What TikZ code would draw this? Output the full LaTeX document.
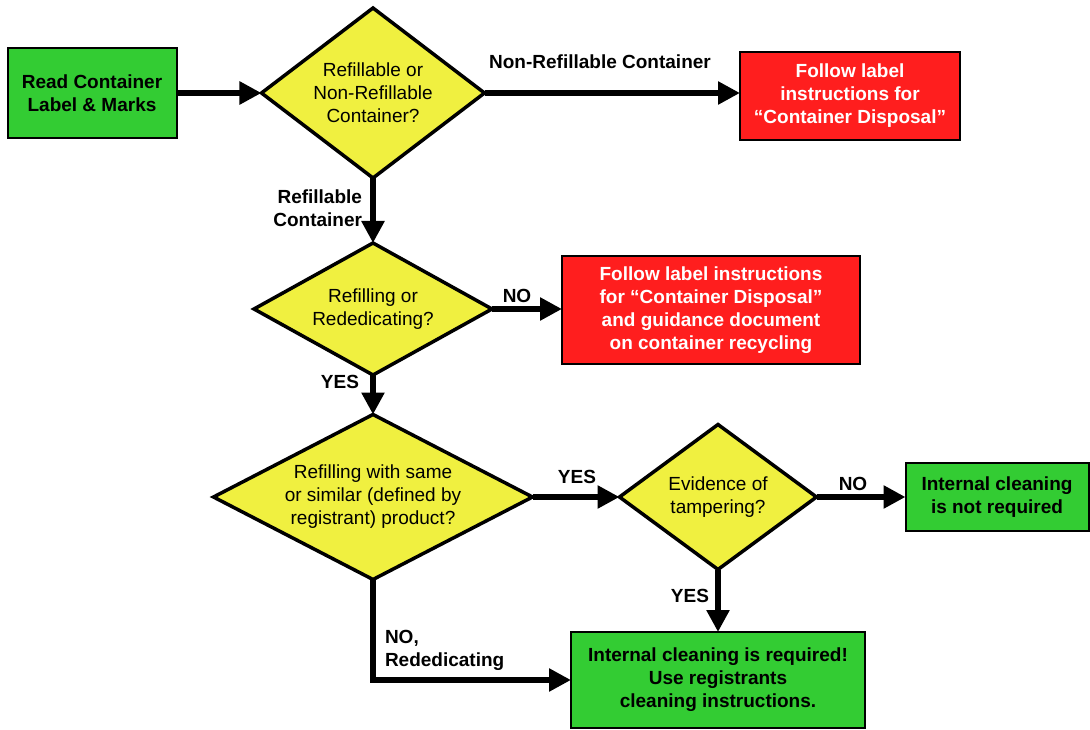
\documentclass[tikz,border=0pt]{standalone}
\usepackage{fontspec}
\setmainfont{Liberation Sans}
\usetikzlibrary{shapes.geometric,arrows.meta}
\definecolor{boxgreen}{RGB}{51,204,51}
\definecolor{boxred}{RGB}{255,30,30}
\definecolor{qyellow}{RGB}{240,240,64}

\begin{document}
\begin{tikzpicture}[x=1pt,y=-1pt,
  every node/.style={font=\fontsize{19}{23}\selectfont, align=center, inner sep=0pt, outer sep=0pt},
  greenbox/.style={draw=black, line width=2pt, fill=boxgreen, font=\fontsize{19}{23}\selectfont\bfseries},
  redbox/.style={draw=black, line width=2pt, fill=boxred, text=white, font=\fontsize{19}{23}\selectfont\bfseries},
  question/.style={diamond, draw=black, line width=3.5pt, fill=qyellow},
  flowlabel/.style={font=\fontsize{19}{23}\selectfont\bfseries},
  flow/.style={line width=6pt, -{Triangle[length=22pt,width=22pt]}}]
\useasboundingbox (0,0) rectangle (1090,730);

\node[greenbox, minimum width=169, minimum height=90] (read) at (92,93) {Read Container\\Label \& Marks};
\node[question, minimum width=223, minimum height=170, label={[align=center]center:Refillable or\\Non-Refillable\\Container?}] (refq) at (373,93) {};
\node[redbox, minimum width=220, minimum height=88] (disp1) at (850,96) {Follow label\\instructions for\\“Container Disposal”};

\node[question, minimum width=238, minimum height=132, label={[align=center]center:Refilling or\\Rededicating?}] (rededq) at (373,309) {};
\node[redbox, minimum width=298, minimum height=107] (disp2) at (711,310) {Follow label instructions\\for “Container Disposal”\\and guidance document\\on container recycling};

\node[question, minimum width=319, minimum height=165, label={[align=center]center:Refilling with same\\or similar (defined by\\registrant) product?}] (sameq) at (373,497) {};
\node[question, minimum width=197, minimum height=145, label={[align=center]center:Evidence of\\tampering?}] (tamperq) at (718,497) {};
\node[greenbox, minimum width=183, minimum height=68] (noclean) at (997,497) {Internal cleaning\\is not required};
\node[greenbox, minimum width=294, minimum height=96] (clean) at (718,680) {Internal cleaning is required!\\Use registrants\\cleaning instructions.};

% connectors
\draw[flow] (read) -- (refq);
\draw[flow] (refq.east) -- (refq.east -| disp1.west);
\draw[flow] (refq.south) -- (rededq.north);
\draw[flow] (rededq.east) -- (rededq.east -| disp2.west);
\draw[flow] (rededq.south) -- (sameq.north);
\draw[flow] (sameq.east) -- (tamperq.west);
\draw[flow] (tamperq.east) -- (noclean.west);
\draw[flow] (tamperq.south) -- (clean.north);
\draw[flow] (sameq.south) |- (clean.west);

% labels
\node[flowlabel] (lblnonref) at (600,62) {Non-Refillable Container};
\node[flowlabel, anchor=east, align=right] (lblref) at (362,208) {Refillable\\Container};
\node[flowlabel] (lblno1) at (517,296) {NO};
\node[flowlabel] (lblyes1) at (340,382) {YES};
\node[flowlabel] (lblyes2) at (577,477) {YES};
\node[flowlabel] (lblno2) at (853,484) {NO};
\node[flowlabel] (lblyes3) at (690,596) {YES};
\node[flowlabel, anchor=west, align=left] (lblrededic) at (385,650) {NO,\\Rededicating};
\end{tikzpicture}
\end{document}
